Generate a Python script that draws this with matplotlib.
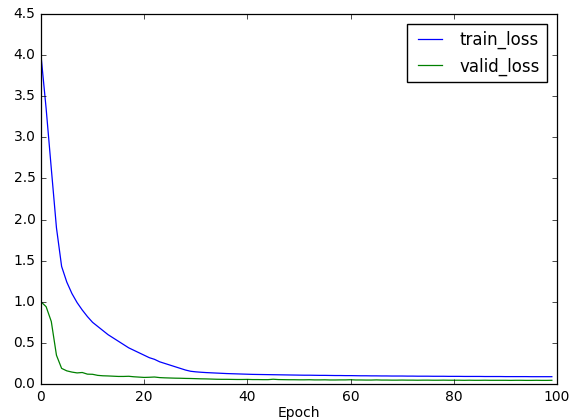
import matplotlib
matplotlib.use('Agg')
import matplotlib.pyplot as plt

epochs = list(range(100))

train_loss = [
    4.00, 3.35, 2.62, 1.90, 1.43, 1.24, 1.10, 0.99, 0.90, 0.82,
    0.75, 0.70, 0.65, 0.60, 0.56, 0.52, 0.48, 0.44, 0.41, 0.38,
    0.35, 0.32, 0.30, 0.27, 0.25, 0.23, 0.21, 0.19, 0.170, 0.155,
    0.148, 0.143, 0.139, 0.136, 0.133, 0.130, 0.127, 0.125, 0.123, 0.121,
    0.119, 0.117, 0.116, 0.115, 0.114, 0.113, 0.112, 0.111, 0.110, 0.109,
    0.108, 0.107, 0.107, 0.106, 0.105, 0.105, 0.104, 0.103, 0.103, 0.102,
    0.102, 0.101, 0.100, 0.100, 0.099, 0.099, 0.098, 0.098, 0.097, 0.097,
    0.097, 0.096, 0.096, 0.095, 0.095, 0.095, 0.094, 0.094, 0.094, 0.093,
    0.093, 0.093, 0.092, 0.092, 0.092, 0.092, 0.091, 0.091, 0.091, 0.091,
    0.090, 0.090, 0.090, 0.090, 0.090, 0.089, 0.089, 0.089, 0.089, 0.089,
]

valid_loss = [
    1.00, 0.94, 0.76, 0.35, 0.19, 0.16, 0.145, 0.135, 0.140, 0.120,
    0.118, 0.105, 0.100, 0.098, 0.095, 0.092, 0.092, 0.094, 0.088, 0.084,
    0.080, 0.082, 0.085, 0.078, 0.075, 0.073, 0.071, 0.070, 0.068, 0.067,
    0.065, 0.063, 0.062, 0.060, 0.058, 0.057, 0.057, 0.056, 0.055, 0.055,
    0.056, 0.054, 0.054, 0.053, 0.053, 0.058, 0.054, 0.053, 0.052, 0.052,
    0.051, 0.051, 0.052, 0.050, 0.050, 0.051, 0.049, 0.049, 0.050, 0.050,
    0.052, 0.049, 0.049, 0.048, 0.048, 0.050, 0.048, 0.048, 0.047, 0.047,
    0.048, 0.047, 0.047, 0.046, 0.047, 0.047, 0.046, 0.046, 0.047, 0.046,
    0.046, 0.046, 0.045, 0.046, 0.045, 0.045, 0.046, 0.045, 0.045, 0.045,
    0.045, 0.044, 0.045, 0.045, 0.044, 0.044, 0.045, 0.044, 0.044, 0.045,
]

if __name__ == '__main__':
    plt.style.use('classic')
    plt.rcParams.update({
        'font.size': 10,
        'xtick.labelsize': 10,
        'ytick.labelsize': 10,
        'axes.labelsize': 10,
        'legend.fontsize': 12,
        'lines.linewidth': 0.9,
        'axes.linewidth': 0.9,
        'xtick.major.size': 3.3,
        'ytick.major.size': 3.3,
    })
    fig = plt.figure(figsize=(5.87, 4.2), dpi=100, facecolor='white')
    ax = fig.add_axes([0.0698, 0.0857, 0.8791, 0.881])
    ax.plot(epochs, train_loss, label='train_loss')
    ax.plot(epochs, valid_loss, label='valid_loss')
    ax.set_xlim(0, 100)
    ax.set_ylim(0, 4.5)
    ax.set_xlabel('Epoch', labelpad=2)
    ax.legend(borderaxespad=0.6)
    plt.savefig('out.png', dpi=100, facecolor='white')
